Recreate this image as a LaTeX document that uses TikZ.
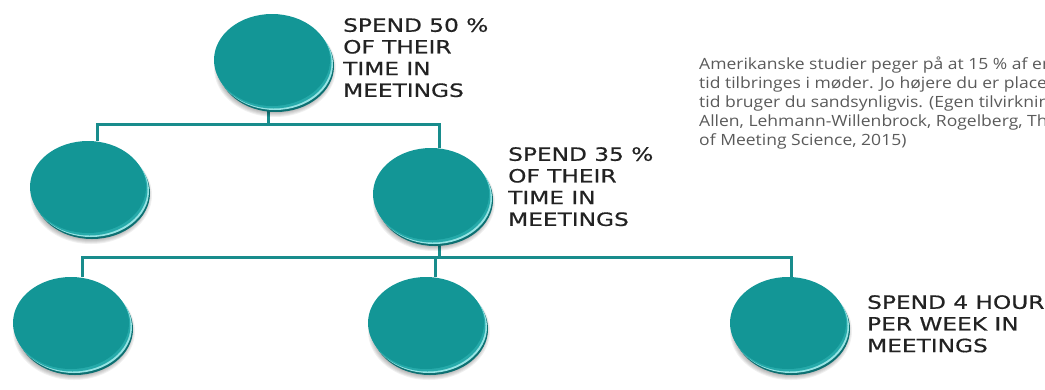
\documentclass[tikz,border=0pt]{standalone}
\usepackage{fontspec}
\usetikzlibrary{shapes.geometric,calc}
\newfontfamily\headfont{DejaVu Sans}[FakeStretch=1.27, FakeBold=0.6]
\newfontfamily\parafont{Open Sans}[FakeStretch=1.13]
\definecolor{face}{RGB}{19,150,150}
\definecolor{rimdark}{RGB}{12,112,114}
\definecolor{rimlight}{RGB}{150,228,228}
\definecolor{rimmid}{RGB}{38,170,170}
\definecolor{wire}{RGB}{24,140,140}
\definecolor{headtext}{RGB}{34,34,34}
\definecolor{paratext}{RGB}{90,90,90}
\pgfdeclarelayer{bg}
\pgfsetlayers{bg,main}
\tikzset{
  conn/.style={wire, line width=3pt, line join=miter},
  anchorbox/.style={ellipse, minimum width=116pt, minimum height=92pt, inner sep=0pt},
  heading/.style={anchor=north west, inner sep=0pt, align=left, text=headtext,
    font=\headfont\fontsize{18.3}{21.7}\selectfont},
  para/.style={anchor=north west, inner sep=0pt, align=left, text=paratext,
    font=\parafont\fontsize{15.5}{19}\selectfont},
}
% a teal coin: soft shadow, bevelled rim, flat face, plus a named node
\newcommand\drawcoin[3]{%
  \begin{scope}[shift={(#2,#3)}]
    \foreach \k in {0,...,6}
      \fill[black, opacity=0.06] (3,8) ellipse ({55+\k} and {43+\k});
    \fill[rimdark] (4,6) ellipse (58 and 46);
    \fill[rimlight] (3,4) ellipse (58 and 46);
    \fill[rimmid] (1.5,2.5) ellipse (58 and 46);
    \fill[face] (0,0) ellipse (58 and 46);
  \end{scope}
  \node[anchorbox] (#1) at (#2,#3) {};
}
\begin{document}
\begin{tikzpicture}[x=1pt, y=-1pt]
  \useasboundingbox (0,0) rectangle (1045,389);
  \clip (0,0) rectangle (1045,389);

  % coins
  \drawcoin{top}{272}{60}
  \drawcoin{midL}{88}{187}
  \drawcoin{midR}{431}{194}
  \drawcoin{botL}{71}{323}
  \drawcoin{botM}{426}{323}
  \drawcoin{botR}{788}{323}

  % connectors, behind the coins
  \begin{pgfonlayer}{bg}
    \coordinate (busA) at (0,124);
    \coordinate (busB) at (0,257);
    \coordinate (sTop) at ($(top.south)+(-4,0)$);
    \coordinate (sML)  at ($(midL.north)+(9,0)$);
    \coordinate (sMR)  at ($(midR.north)+(8,0)$);
    \coordinate (sMRb) at ($(midR.south)+(8,0)$);
    \coordinate (sBL)  at ($(botL.north)+(11,0)$);
    \coordinate (sBM)  at ($(botM.north)+(9,0)$);
    \coordinate (sBR)  at ($(botR.north)+(3,0)$);
    \draw[conn] (sTop) -- (sTop |- busA);
    \draw[conn] (sML) -- (sML |- busA) -- (sMR |- busA) -- (sMR);
    \draw[conn] (sMRb) -- (sMRb |- busB);
    \draw[conn] (sBL) -- (sBL |- busB) -- (sBR |- busB) -- (sBR);
    \draw[conn] (sBM) -- (sBM |- busB);
  \end{pgfonlayer}

  % labels
  \node[heading] (lab1) at (343,18) {SPEND 50 \%\\OF THEIR\\TIME IN\\MEETINGS};
  \node[heading] (lab2) at (508,147) {SPEND 35 \%\\OF THEIR\\TIME IN\\MEETINGS};
  \node[heading] (lab3) at (867,295) {SPEND 4 HOUR\\PER WEEK IN\\MEETINGS};

  \node[para] (note) at (699,56.5) {Amerikanske studier peger på at 15 \% af en\\
    tid tilbringes i møder. Jo højere du er placeret\\
    tid bruger du sandsynligvis. (Egen tilvirkning\\
    Allen, Lehmann-Willenbrock, Rogelberg, The\\
    of Meeting Science, 2015)};
\end{tikzpicture}
\end{document}
